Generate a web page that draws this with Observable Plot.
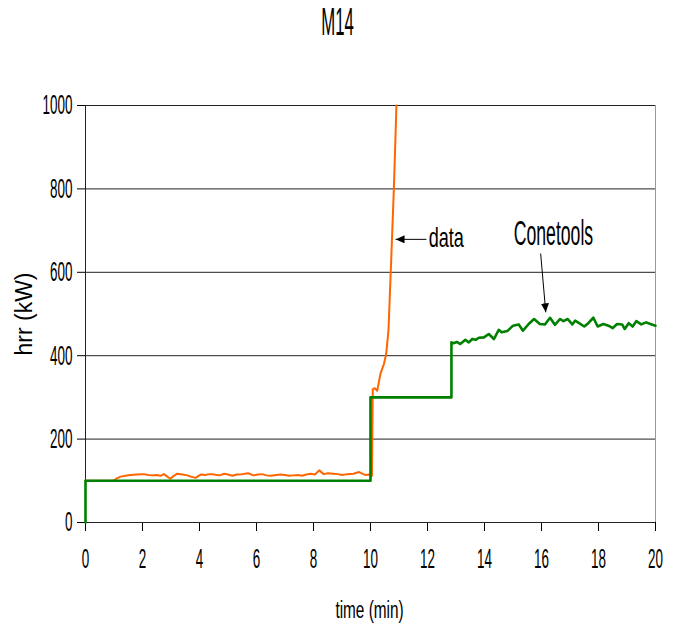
<!DOCTYPE html>
<html>
<head>
<meta charset="utf-8">
<script src="https://cdn.jsdelivr.net/npm/d3@7"></script>
<script src="https://cdn.jsdelivr.net/npm/@observablehq/plot@0.6"></script>
<style>
  html, body { margin: 0; padding: 0; background: #fff; }
</style>
</head>
<body>
<div id="chart"></div>
<script>
// ---- Chart text ----
const title = "M14";
const xLabel = "time (min)";
const yLabel = "hrr (kW)";

// ---- Ticks ----
const xTicks = [0, 2, 4, 6, 8, 10, 12, 14, 16, 18, 20];
const yTicks = [0, 200, 400, 600, 800, 1000];
const gridValues = [200, 400, 600, 800, 1000];

// ---- Series: "data" (measured) ----
const dataTime = [
  0, 0.98, 1.1, 1.23, 1.4, 1.58, 1.8, 2.05, 2.2, 2.34,
  2.5, 2.63, 2.75, 2.87, 2.98, 3.1, 3.22, 3.4, 3.57, 3.7,
  3.86, 4.04, 4.2, 4.35, 4.5, 4.7, 4.87, 5.0, 5.16, 5.3,
  5.5, 5.7, 5.9, 6.05, 6.2, 6.35, 6.5, 6.7, 6.84, 7.0,
  7.15, 7.3, 7.45, 7.6, 7.75, 7.9, 8.05, 8.2, 8.36, 8.5,
  8.7, 8.85, 9.0, 9.18, 9.4, 9.6, 9.75, 9.83, 9.96, 10.05,
  10.08, 10.15, 10.235, 10.35, 10.47, 10.55, 10.63, 10.71, 10.82, 10.91
];
const dataHrr = [
  100, 100, 106, 110, 112, 114, 115, 116, 114, 113,
  114, 112, 116, 110, 105, 112, 117, 115, 113, 110,
  107, 115, 114, 116, 115, 113, 117, 115, 112, 115,
  116, 118, 113, 115, 116, 113, 112, 114, 115, 114,
  112, 113, 114, 112, 115, 117, 115, 125, 116, 118,
  117, 116, 114, 116, 117, 121, 116, 114, 115, 112,
  320, 322, 316, 357, 380, 404, 460, 600, 800, 1000
];

// ---- Series: "Conetools" (model) ----
const coneTime = [
  0, 0, 10, 10, 12.84, 12.84, 12.91, 13.03, 13.15, 13.33,
  13.45, 13.57, 13.69, 13.8, 13.98, 14.15, 14.33, 14.5, 14.6, 14.8,
  15.0, 15.2, 15.35, 15.55, 15.74, 15.94, 16.12, 16.3, 16.47, 16.65,
  16.77, 16.92, 17.08, 17.18, 17.32, 17.5, 17.64, 17.82, 17.97, 18.17,
  18.35, 18.5, 18.65, 18.83, 18.92, 19.06, 19.2, 19.33, 19.5, 19.67,
  19.82, 20.0
];
const coneHrr = [
  0, 100, 100, 300, 300, 432, 430, 433, 428, 438,
  432, 440, 438, 443, 444, 452, 440, 462, 456, 459,
  472, 475, 460, 476, 488, 476, 475, 491, 474, 488,
  483, 488, 475, 484, 478, 470, 478, 491, 470, 476,
  472, 466, 476, 475, 464, 478, 470, 483, 475, 480,
  476, 472
];

// ---- Annotations (data-space anchors) ----
const annotationText = ["data", "Conetools"];
const annotationX = [12.04, 16.42];
const annotationY = [682, 692];
const arrowX1 = [11.96, 15.97];
const arrowY1 = [679, 645];
const arrowX2 = [10.88, 16.15];
const arrowY2 = [679, 504];

// ---- Build tables ----
const dataRows = dataTime.map((t, i) => ({t, v: dataHrr[i]}));
const coneRows = coneTime.map((t, i) => ({t, v: coneHrr[i]}));
const arrows = arrowX1.map((x1, i) => ({x1, y1: arrowY1[i], x2: arrowX2[i], y2: arrowY2[i]}));
const notes = annotationText.map((s, i) => ({s, x: annotationX[i], y: annotationY[i]}));

const FONT = "'Liberation Sans', Arial, sans-serif";

const svg = Plot.plot({
  width: 680,
  height: 633,
  marginLeft: 85,
  marginRight: 25,
  marginTop: 105,
  marginBottom: 111,
  style: {fontFamily: FONT, fontSize: "28px", color: "#000", background: "#fff"},
  x: {domain: [0, 20], ticks: xTicks, tickSize: 9, tickPadding: 17, tickFormat: d => String(d), label: null},
  y: {domain: [0, 1000], ticks: yTicks, tickSize: 8, tickPadding: 5, tickFormat: d => String(d), label: null},
  marks: [
    Plot.ruleY(gridValues, {stroke: "#222", strokeWidth: 1}),
    Plot.ruleX([20], {stroke: "#999", strokeWidth: 1}),
    Plot.ruleX([0], {stroke: "#222", strokeWidth: 1}),
    Plot.ruleY([0], {stroke: "#222", strokeWidth: 1}),
    Plot.line(dataRows, {x: "t", y: "v", stroke: "#FF6600", strokeWidth: 2}),
    Plot.line(coneRows, {x: "t", y: "v", stroke: "#008000", strokeWidth: 2.6}),
    Plot.link(arrows, {x1: "x1", y1: "y1", x2: "x2", y2: "y2", stroke: "#000", strokeWidth: 1, markerEnd: "arrow"}),
    Plot.text([notes[0]], {x: "x", y: "y", text: "s", textAnchor: "start", lineAnchor: "middle", fontSize: 27, fill: "#000", ariaLabel: () => "note-data"}),
    Plot.text([notes[1]], {x: "x", y: "y", text: "s", textAnchor: "middle", lineAnchor: "middle", fontSize: 36, fill: "#000", ariaLabel: () => "note-cone"}),
    Plot.text([title], {text: d => d, frameAnchor: "top-left", dx: 252, dy: -82.5, textAnchor: "middle", lineAnchor: "middle", fontSize: 39, fill: "#000", ariaLabel: () => "title"}),
    Plot.text([xLabel], {text: d => d, frameAnchor: "bottom", dx: -1, dy: 87.5, textAnchor: "middle", lineAnchor: "middle", fontSize: 24, fill: "#000", ariaLabel: () => "xlabel"}),
    Plot.text([yLabel], {text: d => d, frameAnchor: "left", dx: -61, rotate: -90, textAnchor: "middle", lineAnchor: "middle", fontSize: 23, fill: "#000", ariaLabel: () => "ylabel"})
  ]
});

// Horizontally condense text (the original uses a very narrow technical font)
function squeeze(selector, s) {
  svg.querySelectorAll(selector).forEach(t => {
    const tr = t.getAttribute("transform");
    if (tr) {
      t.setAttribute("transform", tr + ` scale(${s},1)`);
    } else {
      const x = parseFloat(t.getAttribute("x")) || 0;
      const y = parseFloat(t.getAttribute("y")) || 0;
      t.removeAttribute("x");
      t.removeAttribute("y");
      t.setAttribute("transform", `translate(${x},${y}) scale(${s},1)`);
    }
  });
}
function sel(name) {
  return `text[aria-label="${name}"], g[aria-label="${name}"] > text`;
}
squeeze('[aria-label^="x-axis"] text', 0.48);
squeeze('[aria-label^="y-axis"] text', 0.48);
squeeze(sel("title"), 0.43);
squeeze(sel("xlabel"), 0.64);
squeeze(sel("note-data"), 0.67);
squeeze(sel("note-cone"), 0.49);

// Filled triangular arrowheads
svg.querySelectorAll("marker").forEach(m => {
  m.setAttribute("viewBox", "-9 -4 9 8");
  m.setAttribute("markerWidth", 9);
  m.setAttribute("markerHeight", 8);
  m.setAttribute("markerUnits", "userSpaceOnUse");
  m.setAttribute("refX", 0);
  m.setAttribute("refY", 0);
  m.setAttribute("fill", "#000");
  m.setAttribute("stroke", "none");
  while (m.firstChild) m.removeChild(m.firstChild);
  const p = document.createElementNS("http://www.w3.org/2000/svg", "path");
  p.setAttribute("d", "M-9,-4L0,0L-9,4Z");
  m.appendChild(p);
});

document.getElementById("chart").appendChild(svg);
</script>
</body>
</html>
